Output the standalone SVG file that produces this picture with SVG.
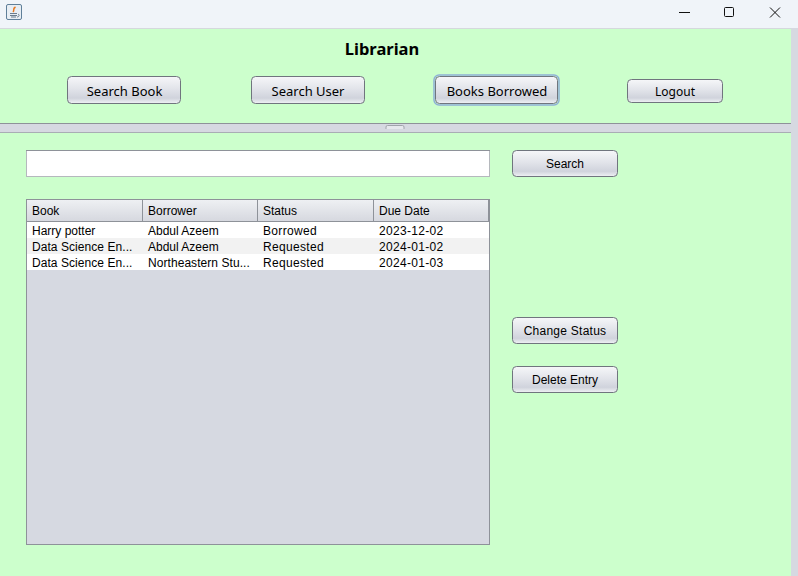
<svg xmlns="http://www.w3.org/2000/svg" width="798" height="576" viewBox="0 0 798 576">
<style>
.b{fill:url(#bg);stroke:#70757e;stroke-width:1}
.t{font-family:"Noto Sans","Open Sans",sans-serif;font-size:13px;fill:#000;text-anchor:middle}
.a{font-family:"Liberation Sans",Arial,sans-serif;font-size:12px;fill:#000}
.w{letter-spacing:.32px}
.ac{font-family:"Liberation Sans",Arial,sans-serif;font-size:12px;fill:#000;text-anchor:middle}
.s{font-family:"Noto Sans","Open Sans",sans-serif;font-size:12px;fill:#000;text-anchor:middle}
</style>
<defs>
<linearGradient id="bg" x1="0" y1="0" x2="0" y2="1">
<stop offset="0" stop-color="#f6f7f9"/><stop offset="0.45" stop-color="#e2e4ea"/><stop offset="0.8" stop-color="#d0d3dc"/><stop offset="1" stop-color="#f0f2f5"/>
</linearGradient>
<linearGradient id="hg" x1="0" y1="0" x2="0" y2="1">
<stop offset="0" stop-color="#eef0f3"/><stop offset="1" stop-color="#d6d8df"/>
</linearGradient>
</defs>
<rect width="798" height="576" fill="#ccffcc"/>
<rect x="0" y="0" width="798" height="28.500" fill="#f0f4f9"/>
<line x1="0" y1="28.500" x2="798" y2="28.500" stroke="#d5d8dd"/>
<rect x="791" y="28" width="7" height="548" fill="#d6d9e1"/>
<g id="window-icon">
<rect x="6.500" y="4.500" width="15" height="15" rx="1.500" fill="#e8eef4" stroke="#5f7f99"/>
<path d="M15.500 7c-3.500 2-.5 3-2.500 5" fill="none" stroke="#e8781e" stroke-width="1.500"/>
<path d="M10 13.500h7M10 15.500h7M11 17h5M18 14c2 1 1 3-1 3" stroke="#5b6f82" stroke-width="0.900" fill="none"/>
</g>
<g id="window-controls" fill="none" stroke="#111" stroke-width="1">
<line x1="679" y1="12.500" x2="690" y2="12.500"/>
<rect x="724.500" y="7.500" width="9" height="9" rx="1"/>
<path d="M770 7.500l10 10M780 7.500l-10 10"/>
</g>
<g id="title"><text x="382" y="55" font-family="'Noto Sans','Open Sans',sans-serif" font-size="16.500" font-weight="700" text-anchor="middle">Librarian</text></g>
<g id="btn-search-book"><rect class="b" x="67.500" y="76.500" width="113" height="27" rx="4"/><text class="t" x="124.500" y="95.500">Search Book</text></g>
<g id="btn-search-user"><rect class="b" x="251.500" y="76.500" width="113" height="27" rx="4"/><text class="t" x="308" y="95.500">Search User</text></g>
<g id="btn-books-borrowed"><rect x="434" y="75" width="125" height="30" rx="5" fill="none" stroke="#8fb0d6" stroke-width="1.500"/><rect class="b" x="435.500" y="76.500" width="122" height="27" rx="4" stroke="#5f7696"/><text class="t" x="497" y="95.500">Books Borrowed</text></g>
<g id="btn-logout"><rect class="b" x="627.500" y="79.500" width="95" height="23" rx="4"/><text class="s" x="675" y="95.500">Logout</text></g>
<g id="divider">
<rect x="0" y="123" width="791" height="10" fill="#d6d9e1"/>
<line x1="0" y1="123.500" x2="791" y2="123.500" stroke="#8e9299"/>
<line x1="0" y1="132.500" x2="791" y2="132.500" stroke="#a9adb4"/>
<path d="M386 129v-2a1.500 1.500 0 0 1 1.500-1.500h15a1.500 1.500 0 0 1 1.500 1.500v2" fill="#e6e8ed" stroke="#a0a4ab"/>
</g>
<g id="search-field"><rect x="26.500" y="150.500" width="463" height="26" fill="#fff" stroke="#b5b8bd"/><line x1="26" y1="150.500" x2="490" y2="150.500" stroke="#8e9299"/></g>
<g id="btn-search"><rect class="b" x="512.500" y="150.500" width="105" height="26" rx="4"/><text class="ac" x="565" y="167.500">Search</text></g>
<g id="btn-change-status"><rect class="b" x="512.500" y="317.500" width="105" height="26" rx="4"/><text class="ac" x="565" y="334.500" letter-spacing=".25">Change Status</text></g>
<g id="btn-delete-entry"><rect class="b" x="512.500" y="366.500" width="105" height="26" rx="4"/><text class="ac" x="565" y="383.500">Delete Entry</text></g>
<g id="table">
<rect x="26.500" y="199.500" width="463" height="345" fill="#d6d9e1" stroke="#8e9299"/>
<rect x="27" y="200" width="462" height="21" fill="url(#hg)"/>
<line x1="27" y1="221.500" x2="489" y2="221.500" stroke="#8e9299"/>
<path d="M142.500 200v21M257.500 200v21M373.500 200v21M488.500 200v21" stroke="#8e9299"/>
<rect x="27" y="222" width="462" height="16" fill="#fff"/>
<rect x="27" y="238" width="462" height="16" fill="#f2f2f2"/>
<rect x="27" y="254" width="462" height="16" fill="#fff"/>
<text class="a" x="32" y="215">Book</text><text class="a" x="148" y="215">Borrower</text><text class="a" x="263" y="215">Status</text><text class="a" x="379" y="215">Due Date</text>
<text class="a" x="32" y="235">Harry potter</text><text class="a" x="148" y="235">Abdul Azeem</text><text class="a w" x="263" y="235">Borrowed</text><text class="a w" x="379" y="235">2023-12-02</text>
<text class="a" x="32" y="251" letter-spacing=".06">Data Science En...</text><text class="a" x="148" y="251">Abdul Azeem</text><text class="a w" x="263" y="251">Requested</text><text class="a w" x="379" y="251">2024-01-02</text>
<text class="a" x="32" y="267" letter-spacing=".06">Data Science En...</text><text class="a" x="148" y="267" letter-spacing=".06">Northeastern Stu...</text><text class="a w" x="263" y="267">Requested</text><text class="a w" x="379" y="267">2024-01-03</text>
</g>
</svg>
